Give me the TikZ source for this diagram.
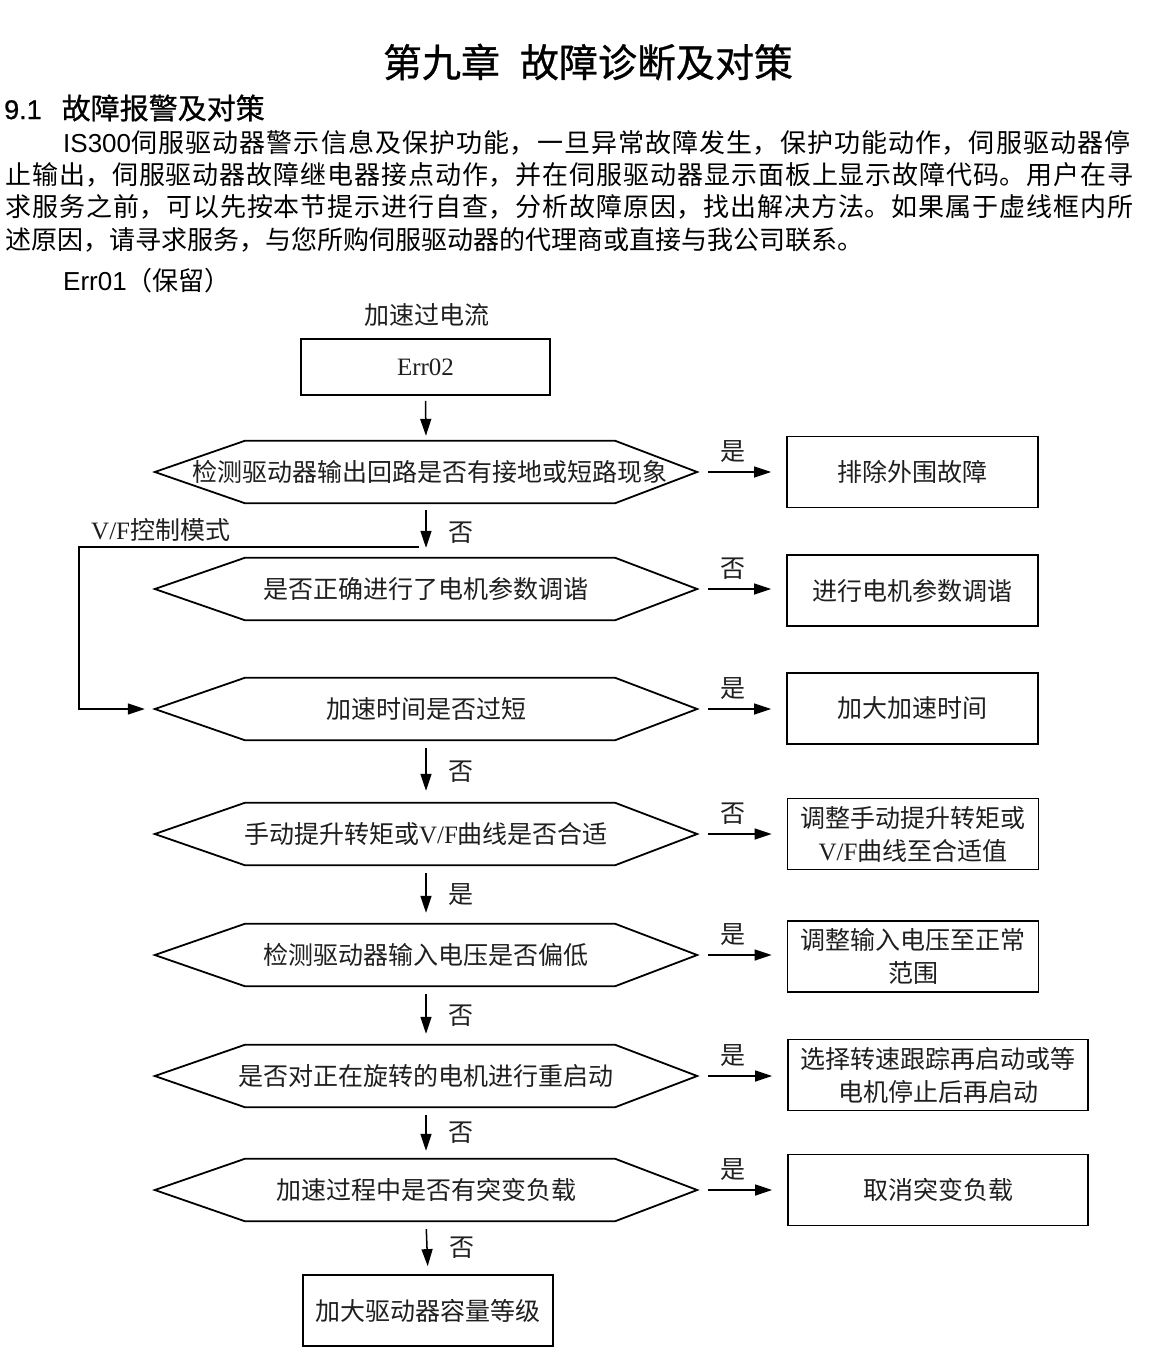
\documentclass[tikz,border=0pt]{standalone}
\usepackage{fontspec}
\setmainfont{Noto Sans CJK SC}
\newfontfamily\tm{Liberation Serif}
\newfontfamily\ar{Liberation Sans}
\newfontfamily\cjkb[FakeBold=0.8]{Noto Sans CJK SC}
\newfontfamily\arb[FakeBold=0.8]{Liberation Sans}
\usetikzlibrary{arrows.meta}
\XeTeXlinebreaklocale "zh"
\XeTeXlinebreakskip=0pt plus 3pt
\newcommand{\flowfont}{\fontsize{25}{33}\selectfont}
\newcommand{\hexdraw}[1]{\draw[hexline] (#1.west) -- ([xshift=90pt]#1.north west) -- ([xshift=-82pt]#1.north east) -- (#1.east) -- ([xshift=-82pt]#1.south east) -- ([xshift=90pt]#1.south west) -- cycle;}
\begin{document}
\begin{tikzpicture}[x=1pt,y=-1pt,
  txt/.style={inner sep=0pt, text=black},
  box/.style={draw, line width=1.8pt, minimum width=251pt, minimum height=71pt, inner sep=0pt, align=center, font=\flowfont, text=black!88},
  hexn/.style={minimum width=542pt, minimum height=62pt, inner sep=0pt, font=\flowfont, text=black!88},
  hexline/.style={line width=1.8pt, line join=miter},
  arr/.style={line width=1.5pt, -{Triangle[length=17pt,width=11pt]}},
  lbl/.style={inner sep=0pt, font=\flowfont, text=black!88}
]
\useasboundingbox (0,0) rectangle (1151,1370);
\fill[white] (0,0) rectangle (1151,1370);

% header texts
\node[txt] (title) at (588,62) {\fontsize{39}{44}\selectfont\cjkb 第九章\hspace{20pt}故障诊断及对策};
\node[txt, anchor=west] (sec) at (4,108) {{\arb\fontsize{27}{32}\selectfont 9.1}\hspace{20pt}{\cjkb\fontsize{29}{32}\selectfont 故障报警及对策}};
\node[txt, anchor=north west, text width=1145pt, font={\fontsize{26}{32.3}\selectfont}] (para) at (5,130) {\hspace*{58pt}{\ar IS300}伺服驱动器警示信息及保护功能，一旦异常故障发生，保护功能动作，伺服驱动器停\linebreak 止输出，伺服驱动器故障继电器接点动作，并在伺服驱动器显示面板上显示故障代码。用户在寻\linebreak 求服务之前，可以先按本节提示进行自查，分析故障原因，找出解决方法。如果属于虚线框内所\linebreak 述原因，请寻求服务，与您所购伺服驱动器的代理商或直接与我公司联系。\par};
\node[txt, anchor=west] (err01) at (63,281) {\fontsize{26}{30}\selectfont{\ar Err01}（保留）};

% flowchart
\node[lbl] (head) at (427,315) {加速过电流};
\node[box, minimum width=249pt, minimum height=56pt] (e2) at (425.5,367) {\tm Err02};

\node[hexn] (h1) at (426,472) {\hspace{8pt}检测驱动器输出回路是否有接地或短路现象};
\node[hexn] (h2) at (426,589) {是否正确进行了电机参数调谐};
\node[hexn] (h3) at (426,709) {加速时间是否过短};
\node[hexn] (h4) at (426,834) {手动提升转矩或{\tm V/F}曲线是否合适};
\node[hexn] (h5) at (426,955) {检测驱动器输入电压是否偏低};
\node[hexn] (h6) at (426,1076) {是否对正在旋转的电机进行重启动};
\node[hexn] (h7) at (426,1190) {加速过程中是否有突变负载};
\hexdraw{h1}\hexdraw{h2}\hexdraw{h3}\hexdraw{h4}\hexdraw{h5}\hexdraw{h6}\hexdraw{h7}

\node[box] (b1) at (912.5,472) {排除外围故障};
\node[box] (b2) at (912.5,590.5) {进行电机参数调谐};
\node[box] (b3) at (912.5,708.5) {加大加速时间};
\node[box] (b4) at (913,834) {调整手动提升转矩或\\{\tm V/F}曲线至合适值};
\node[box] (b5) at (913,956.5) {调整输入电压至正常\\范围};
\node[box, minimum width=300pt] (b6) at (938,1075) {选择转速跟踪再启动或等\\电机停止后再启动};
\node[box, minimum width=300pt] (b7) at (938,1190) {取消突变负载};
\node[box, minimum width=250pt] (fin) at (428,1310.5) {加大驱动器容量等级};

% vertical arrows
\draw[arr, shorten <=5pt, shorten >=5pt] (e2.south) -- (h1.north);
\draw[arr, shorten <=7pt, shorten >=10pt] (h1.south) -- node[lbl, anchor=west, xshift=22pt, yshift=-2pt] {否} (h2.north);
\draw[arr, shorten <=8pt, shorten >=12pt] (h3.south) -- node[lbl, anchor=west, xshift=22pt] {否} (h4.north);
\draw[arr, shorten <=8pt, shorten >=11pt] (h4.south) -- node[lbl, anchor=west, xshift=22pt] {是} (h5.north);
\draw[arr, shorten <=8pt, shorten >=11pt] (h5.south) -- node[lbl, anchor=west, xshift=22pt] {否} (h6.north);
\draw[arr, shorten <=8pt, shorten >=8pt] (h6.south) -- node[lbl, anchor=west, xshift=22pt] {否} (h7.north);
\draw[arr, shorten <=8pt, shorten >=8pt] (h7.south) -- node[lbl, anchor=west, xshift=22pt] {否} (fin.north);

% horizontal arrows
\draw[arr, shorten <=11pt, shorten >=15pt] (h1.east) -- node[lbl, pos=0.4, anchor=south, yshift=9pt] {是} (b1.west |- h1.east);
\draw[arr, shorten <=11pt, shorten >=15pt] (h2.east) -- node[lbl, pos=0.4, anchor=south, yshift=9pt] {否} (b2.west |- h2.east);
\draw[arr, shorten <=11pt, shorten >=15pt] (h3.east) -- node[lbl, pos=0.4, anchor=south, yshift=9pt] {是} (b3.west |- h3.east);
\draw[arr, shorten <=11pt, shorten >=15pt] (h4.east) -- node[lbl, pos=0.4, anchor=south, yshift=9pt] {否} (b4.west |- h4.east);
\draw[arr, shorten <=11pt, shorten >=15pt] (h5.east) -- node[lbl, pos=0.4, anchor=south, yshift=9pt] {是} (b5.west |- h5.east);
\draw[arr, shorten <=11pt, shorten >=15pt] (h6.east) -- node[lbl, pos=0.4, anchor=south, yshift=9pt] {是} (b6.west |- h6.east);
\draw[arr, shorten <=11pt, shorten >=15pt] (h7.east) -- node[lbl, pos=0.4, anchor=south, yshift=9pt] {是} (b7.west |- h7.east);

% V/F branch
\coordinate (vfa) at (419,547);
\coordinate (vfb) at (79,547);
\node[lbl, anchor=west] (vflab) at (91,530) {{\tm V/F}控制模式};
\draw[arr, shorten >=10pt] (vfa) -- (vfb) |- (h3.west);
\end{tikzpicture}
\end{document}
